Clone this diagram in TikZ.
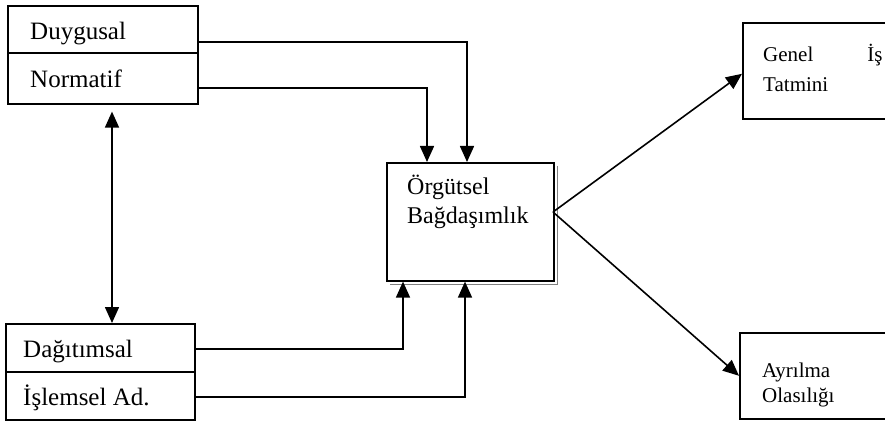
\documentclass[tikz,border=0pt]{standalone}
\usepackage{fontspec}
\setmainfont{Liberation Serif}
\usetikzlibrary{arrows.meta,calc}
\tikzset{
  box/.style={draw, line width=1.6pt, inner sep=0pt, anchor=north west},
  lbl/.style={anchor=base west, inner sep=0pt},
  big/.style={font=\fontsize{25}{28}\selectfont},
  mid/.style={font=\fontsize{24}{28}\selectfont},
  small/.style={font=\fontsize{21}{24}\selectfont},
  tip/.tip={Triangle[length=16pt,width=14pt]},
  conn/.style={line width=1.6pt, -tip},
  both/.style={line width=1.6pt, tip-tip},
}
\begin{document}
\begin{tikzpicture}[x=1pt,y=-1pt]
\useasboundingbox (0,0) rectangle (885,430);
\clip (0,0) rectangle (885,430);

% commitment types (upper left)
\node[box, minimum width=190pt, minimum height=47pt] (duy) at (7,5) {};
\node[box, minimum width=190pt, minimum height=51pt] (norm) at (7,52) {};
\node[lbl, big] (tduy) at (30,40) {Duygusal};
\node[lbl, big] (tnorm) at (30,88) {Normatif};

% justice types (lower left)
\node[box, minimum width=189pt, minimum height=48pt] (dag) at (5,323) {};
\node[box, minimum width=189pt, minimum height=48pt] (isl) at (5,371) {};
\node[lbl, big] (tdag) at (23,357) {Dağıtımsal};
\node[lbl, big] (tisl) at (23,405) {İşlemsel Ad.};

% central construct
\node[box, minimum width=167pt, minimum height=118pt] (cen) at (386,162) {};
\draw[line width=0.7pt, gray] ($(cen.north east)+(3,4)$) -- ($(cen.south east)+(3,3)$) -- ($(cen.south west)+(4,3)$);
\node[lbl, mid] (tcen1) at (407,195) {Örgütsel};
\node[lbl, mid] (tcen2) at (407,223) {Bağdaşımlık};

% outcomes
\node[box, minimum width=150pt, minimum height=96pt] (gen) at (742,22) {};
\node[lbl, small] (tgen1) at (763,62) {Genel\hspace{54pt}İş};
\node[lbl, small] (tgen2) at (763,92) {Tatmini};
\node[box, minimum width=150pt, minimum height=86pt] (ayr) at (739,332) {};
\node[lbl, small] (tayr1) at (762,377) {Ayrılma};
\node[lbl, small] (tayr2) at (762,402) {Olasılığı};

% routing points
\coordinate (yd) at (0,42);
\coordinate (yn) at (0,88);
\coordinate (yg) at (0,349);
\coordinate (yi) at (0,397);
\coordinate (xa) at (467,0);
\coordinate (xb) at (427,0);
\coordinate (xc) at (403,0);
\coordinate (xe) at (465,0);
\coordinate (xv) at (112,0);
\coordinate (src) at (553,212);

% connectors
\draw[conn] (duy.east |- yd) -| (cen.north -| xa);
\draw[conn] (norm.east |- yn) -| (cen.north -| xb);
\draw[conn] (dag.east |- yg) -| (cen.south -| xc);
\draw[conn] (isl.east |- yi) -| (cen.south -| xe);
\draw[both] ([yshift=-7pt]norm.south -| xv) -- (dag.north -| xv);
\draw[conn] (src) -- ([yshift=-3pt]gen.west);
\draw[conn] (src) -- (ayr.west);
\end{tikzpicture}
\end{document}
